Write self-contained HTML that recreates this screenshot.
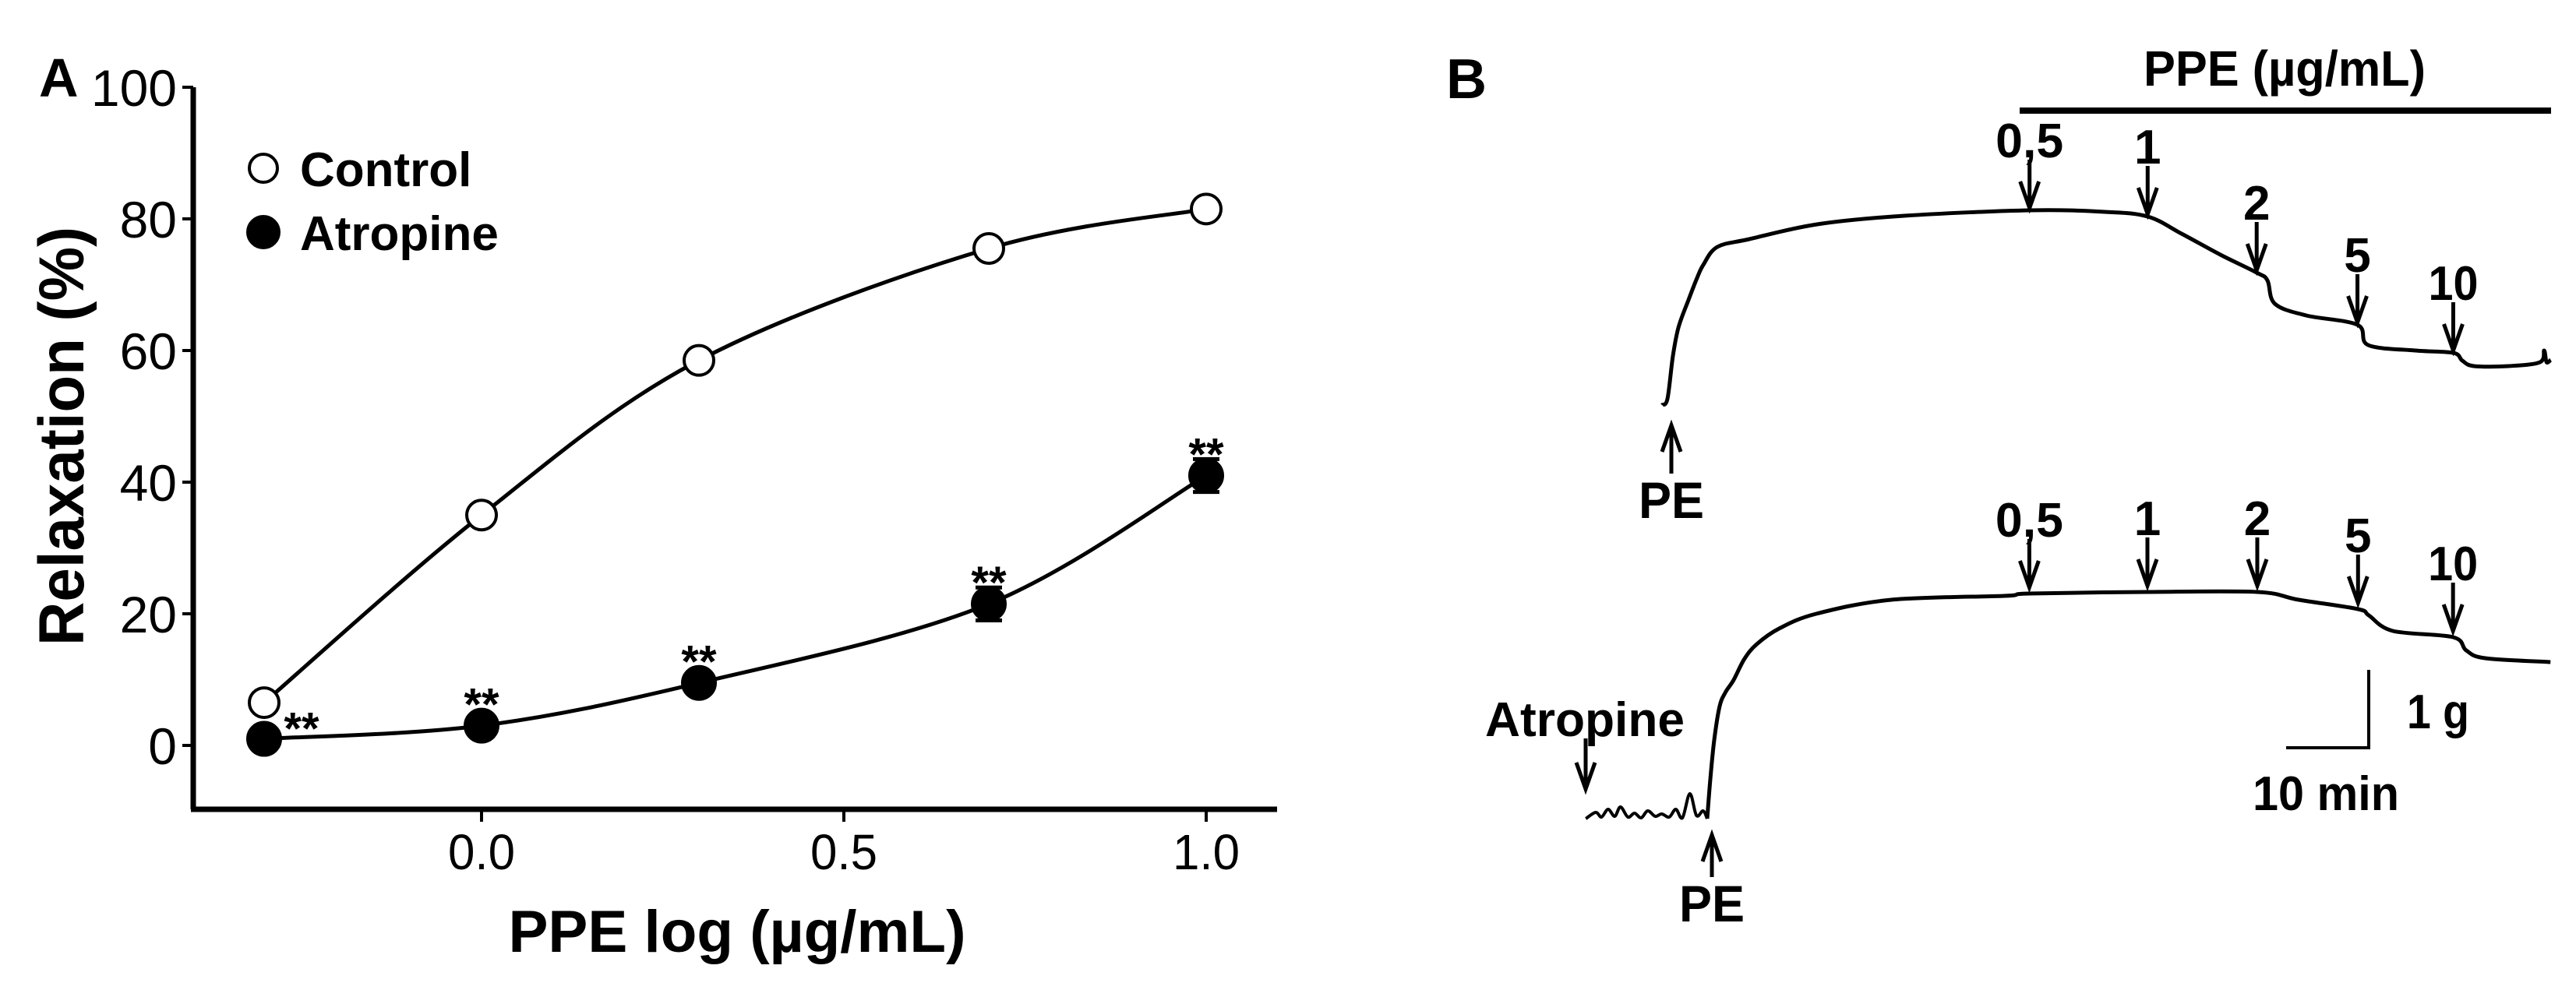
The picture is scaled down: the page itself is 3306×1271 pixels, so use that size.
<!DOCTYPE html>
<html><head><meta charset="utf-8">
<style>
html,body{margin:0;padding:0;background:#fff;}
svg{display:block;}
text{font-family:"Liberation Sans",Arial,sans-serif;fill:#000;}
</style></head>
<body>
<svg id="fig" width="3306" height="1271" viewBox="0 0 3306 1271" xmlns="http://www.w3.org/2000/svg">
  <g id="panelA"></g>
  <g id="panelB"></g>
</svg>
<script>
// ---------- Panel A data ----------
const doseLog = [-0.3, 0.0, 0.3, 0.7, 1.0];
const controlVals = [6.5, 35, 58.5, 75.5, 81.5];
const controlErr = [0, 0, 0, 0, 0];
const atropineVals = [1, 3, 9.5, 21.5, 41];
const atropineErr = [0.5, 0.5, 1, 2.5, 2.5];
const yTicks = [0, 20, 40, 60, 80, 100];
const yTickLabels = ["0", "20", "40", "60", "80", "100"];
const xTicks = [0.0, 0.5, 1.0];
const xTickLabels = ["0.0", "0.5", "1.0"];
const legendLabels = ["Control", "Atropine"];
const sigMarks = ["**", "**", "**", "**", "**"];

// ---------- Panel B data (time in min, tension in g) ----------
const topT = [0,0.66,1.32,2.0,3.21,4.2,5.0,6.7,10.57,18.77,29.34,44.5,53.6,58.8,62.9,67.6,72.0,73.3,74.2,78.0,84.2,85.5,91.2,95.8,96.9,98.3,102.5,106.3,106.8,107.1,107.6];
const topG = [0,0.08,0.63,1.0,1.35,1.62,1.80,2.03,2.13,2.32,2.43,2.50,2.48,2.42,2.20,1.93,1.70,1.60,1.30,1.15,1.03,0.77,0.70,0.67,0.57,0.50,0.50,0.55,0.70,0.55,0.58];
const botT = [0,0.38,0.85,1.5,2.2,3.2,4.5,6.0,8.7,13.2,22.3,36.0,39.0,53.3,66.6,71.6,78.8,80.1,83.0,90.3,91.9,94.2,102.1];
const botG = [0,0.51,1.01,1.44,1.62,1.78,2.05,2.24,2.44,2.63,2.81,2.86,2.89,2.91,2.91,2.81,2.69,2.61,2.41,2.33,2.16,2.06,2.01];
const noiseT = [-14.7,-13.5,-12.8,-12.0,-11.2,-10.5,-9.6,-8.8,-8.0,-7.2,-6.3,-5.5,-4.6,-3.8,-3.0,-2.1,-1.3,-0.5,0];
const noiseG = [0,0.08,0.02,0.12,0.03,0.15,0.02,0.07,0.01,0.10,0.03,0.06,0.02,0.12,0.01,0.32,0.04,0.10,0];
const doseLabels = ["0,5", "1", "2", "5", "10"];
const topArrowT = [44.5, 58.8, 72.0, 84.2, 95.8];
const botArrowT = [39.0, 53.3, 66.6, 78.8, 90.3];

const NS = "http://www.w3.org/2000/svg";
function mk(parent, tag, attrs, txt) {
  const e = document.createElementNS(NS, tag);
  for (const k in attrs) e.setAttribute(k, attrs[k]);
  if (txt !== undefined) e.textContent = txt;
  parent.appendChild(e);
  return e;
}
function smoothPath(pts) {
  let d = "M" + pts[0][0] + "," + pts[0][1];
  for (let i = 0; i < pts.length - 1; i++) {
    const p0 = pts[Math.max(0, i - 1)], p1 = pts[i], p2 = pts[i + 1], p3 = pts[Math.min(pts.length - 1, i + 2)];
    const c1x = p1[0] + (p2[0] - p0[0]) / 6, c1y = p1[1] + (p2[1] - p0[1]) / 6;
    const c2x = p2[0] - (p3[0] - p1[0]) / 6, c2y = p2[1] - (p3[1] - p1[1]) / 6;
    d += " C" + c1x + "," + c1y + " " + c2x + "," + c2y + " " + p2[0] + "," + p2[1];
  }
  return d;
}

// ---------- Panel A ----------
const A = document.getElementById("panelA");
const xScale = v => 618 + v * 930;
const yScale = v => 957 - v * 8.45;
const axisLeft = 248, axisBottom = 1039, axisRight = 1639, axisTop = 112;

const lblA = mk(A, "text", {x: 50, y: 124, "font-size": 70, "font-weight": "bold"}, "A");



const yAxis = mk(A, "path", {d: `M${axisLeft},${axisTop} V${axisBottom}`, stroke: "#000", "stroke-width": 7, fill: "none"});


const xAxis = mk(A, "path", {d: `M${axisLeft - 3},${axisBottom} H${axisRight}`, stroke: "#000", "stroke-width": 7, fill: "none"});



yTicks.forEach((v, i) => {
  const y = yScale(v);
  const t = mk(A, "line", {x1: 234, x2: axisLeft, y1: y, y2: y, stroke: "#000", "stroke-width": 4});
  
  
  const l = mk(A, "text", {x: 227, y: y + 24, "font-size": 66, "text-anchor": "end"}, yTickLabels[i]);
  
  
});
xTicks.forEach((v, i) => {
  const x = xScale(v);
  const t = mk(A, "line", {x1: x, x2: x, y1: axisBottom, y2: axisBottom + 16, stroke: "#000", "stroke-width": 4});
  
  
  const l = mk(A, "text", {x: x, y: 1116, "font-size": 64, "text-anchor": "middle", textLength: 86, lengthAdjust: "spacingAndGlyphs"}, xTickLabels[i]);
  
  
});

const yTitle = mk(A, "text", {x: 0, y: 0, "font-size": 82, "font-weight": "bold", "text-anchor": "middle", textLength: 538, lengthAdjust: "spacingAndGlyphs", transform: "translate(107,560) rotate(-90)"}, "Relaxation (%)");


const xTitle = mk(A, "text", {x: 946, y: 1222, "font-size": 76, "font-weight": "bold", "text-anchor": "middle", textLength: 587, lengthAdjust: "spacingAndGlyphs"}, "PPE log (µg/mL)");



function drawSeries(vals, errs, filled, name) {
  const g = mk(A, "g", {});
  
  
  const pts = doseLog.map((d, i) => [xScale(d), yScale(vals[i])]);
  const line = mk(g, "path", {d: smoothPath(pts), stroke: "#000", "stroke-width": 5, fill: "none"});
  
  
  doseLog.forEach((d, i) => {
    const x = xScale(d), y = yScale(vals[i]);
    if (errs[i] > 1) {
      const yt = yScale(vals[i] + errs[i]), yb = yScale(vals[i] - errs[i]);
      const eb = mk(g, "path", {d: `M${x},${yt} V${yb} M${x - 17},${yt} H${x + 17} M${x - 17},${yb} H${x + 17}`, stroke: "#000", "stroke-width": 5, fill: "none"});
      
      
    }
    const c = mk(g, "circle", {cx: x, cy: y, r: filled ? 21 : 19, fill: filled ? "#000" : "#fff", stroke: "#000", "stroke-width": 4});
    
    
  });
}
drawSeries(controlVals, controlErr, false, "control");
drawSeries(atropineVals, atropineErr, true, "atropine");

doseLog.forEach((d, i) => {
  const x = xScale(d), y = yScale(atropineVals[i]);
  const errTop = yScale(atropineVals[i] + atropineErr[i]);
  let cx = x, cy = Math.min(y - 21, errTop) - 18;
  if (i === 0) { cx = x + 48; cy = y - 25; }
  const s = mk(A, "text", {x: cx, y: cy + 32, "font-size": 58, "font-weight": "bold", "text-anchor": "middle"}, sigMarks[i]);
  
  
});

const leg = mk(A, "g", {});


[[216, false], [298, true]].forEach((p, i) => {
  const e = mk(leg, "g", {});
  
  
  mk(e, "circle", {cx: 338, cy: p[0], r: p[1] ? 20 : 18, fill: p[1] ? "#000" : "#fff", stroke: "#000", "stroke-width": 4});
  mk(e, "text", {x: 385, y: p[0] + 23, "font-size": 62, "font-weight": "bold"}, legendLabels[i]);
});

// ---------- Panel B ----------
const B = document.getElementById("panelB");
const tx0Top = 2133, gy0Top = 520, tx0Bot = 2191, gy0Bot = 1051;
const pxPerMin = 10.6, pxPerG = 100;
const topX = t => tx0Top + t * pxPerMin, topY = g => gy0Top - g * pxPerG;
const botX = t => tx0Bot + t * pxPerMin, botY = g => gy0Bot - g * pxPerG;
function interp(ts, gs, t) {
  for (let i = 0; i < ts.length - 1; i++) if (t >= ts[i] && t <= ts[i + 1]) return gs[i] + (gs[i + 1] - gs[i]) * (t - ts[i]) / (ts[i + 1] - ts[i]);
  return gs[gs.length - 1];
}

const lblB = mk(B, "text", {x: 1856, y: 126, "font-size": 72, "font-weight": "bold"}, "B");


const ppeTitle = mk(B, "text", {x: 2932, y: 110, "font-size": 64, "font-weight": "bold", "text-anchor": "middle", textLength: 362, lengthAdjust: "spacingAndGlyphs"}, "PPE (µg/mL)");


const ppeBar = mk(B, "line", {x1: 2592, x2: 3274, y1: 142, y2: 142, stroke: "#000", "stroke-width": 8});



function trace(ts, gs, fx, fy, name, w) {
  const pts = ts.map((t, i) => fx(t).toFixed(1) + "," + fy(gs[i]).toFixed(1));
  const p = mk(B, "path", {d: smoothPath(ts.map((t, i) => [fx(t), fy(gs[i])])), stroke: "#000", "stroke-width": w, fill: "none", "stroke-linejoin": "round"});
  
  
}
trace(topT, topG, topX, topY, 'control-tension-trace', 5);
trace(botT, botG, botX, botY, 'atropine-tension-trace', 5);
trace(noiseT, noiseG, botX, botY, 'atropine-baseline-trace', 4);

function downArrow(x, tipY, len, label, name) {
  const g = mk(B, "g", {});
  
  
  mk(g, "path", {d: `M${x},${tipY - len} V${tipY} M${x - 12},${tipY - 34} L${x},${tipY} L${x + 12},${tipY - 34}`, stroke: "#000", "stroke-width": 5, fill: "none"});
  const attrs = {x: x, y: tipY - len - 3, "font-size": 62, "font-weight": "bold", "text-anchor": "middle"};
  if (label.length === 3) { attrs.textLength = 87; attrs.lengthAdjust = "spacingAndGlyphs"; }
  if (label.length === 2) { attrs.textLength = 64; attrs.lengthAdjust = "spacingAndGlyphs"; }
  mk(g, "text", attrs, label);
}
function upArrow(x, tipY, len, label, name) {
  const g = mk(B, "g", {});
  
  
  mk(g, "path", {d: `M${x},${tipY + len} V${tipY} M${x - 12},${tipY + 34} L${x},${tipY} L${x + 12},${tipY + 34}`, stroke: "#000", "stroke-width": 5, fill: "none"});
  mk(g, "text", {x: x, y: tipY + len + 57, "font-size": 66, "font-weight": "bold", "text-anchor": "middle", textLength: 84, lengthAdjust: "spacingAndGlyphs"}, label);
}

topArrowT.forEach((t, i) => {
  downArrow(topX(t), topY(interp(topT, topG, t)) - 3, 62, doseLabels[i], 'dose-arrow-control');
});
botArrowT.forEach((t, i) => {
  downArrow(botX(t), botY(interp(botT, botG, t)) - 8, 62, doseLabels[i], 'dose-arrow-atropine');
});
upArrow(2145, 546, 62, "PE", 'pe-arrow-control');
upArrow(2197, 1072, 54, "PE", 'pe-arrow-atropine');

const atrArrow = mk(B, "path", {d: "M2035,948 V1013 M2023,979 L2035,1013 L2047,979", stroke: "#000", "stroke-width": 5, fill: "none"});


const atrLbl = mk(B, "text", {x: 2034, y: 945, "font-size": 62, "font-weight": "bold", "text-anchor": "middle", textLength: 256, lengthAdjust: "spacingAndGlyphs"}, "Atropine");



const sb = mk(B, "path", {d: "M3040,860 V960 H2934", stroke: "#000", "stroke-width": 4, fill: "none"});


const sbG = mk(B, "text", {x: 3089, y: 935, "font-size": 62, "font-weight": "bold", textLength: 80, lengthAdjust: "spacingAndGlyphs"}, "1 g");


const sbT = mk(B, "text", {x: 2891, y: 1040, "font-size": 62, "font-weight": "bold", textLength: 188, lengthAdjust: "spacingAndGlyphs"}, "10 min");


</script>
</body></html>
